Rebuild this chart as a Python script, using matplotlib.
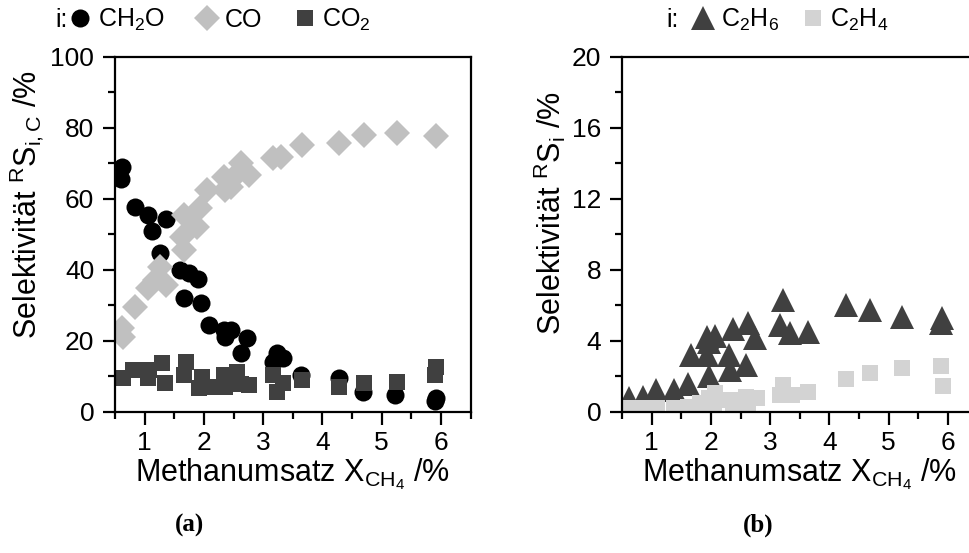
import numpy as np
import matplotlib
matplotlib.use("Agg")
import matplotlib.pyplot as plt
from matplotlib.ticker import MultipleLocator

plt.rcParams["font.family"] = ["Liberation Sans", "DejaVu Sans"]
plt.rcParams["mathtext.fontset"] = "custom"
plt.rcParams["mathtext.rm"] = "Liberation Sans"
plt.rcParams["mathtext.it"] = "Liberation Sans"
plt.rcParams["mathtext.default"] = "regular"

# --- (a) Kohlenstoffselektivitaeten ---
x_ch2o = [0.61, 0.60, 0.84, 1.06, 1.36, 1.12, 1.26, 1.60, 1.74, 1.90, 1.67, 1.95,
          2.08, 2.34, 2.45, 2.36, 2.73, 2.62, 3.16, 3.24, 3.33, 3.64, 4.28, 4.68,
          5.22, 5.92, 5.90]
s_ch2o = [69.1, 65.5, 57.8, 55.5, 54.3, 51.1, 44.7, 40.0, 39.1, 37.4, 32.0, 30.6,
          24.5, 23.1, 23.1, 21.2, 20.8, 16.5, 14.2, 16.5, 15.1, 10.4, 9.5, 5.7,
          4.8, 3.9, 3.1]

x_co = [0.61, 0.64, 0.84, 1.06, 1.26, 1.36, 1.18, 1.66, 1.63, 1.66, 1.88, 1.94,
        2.05, 2.34, 2.36, 2.45, 2.62, 2.76, 2.60, 3.16, 3.30, 3.66, 4.28, 4.70,
        5.25, 5.92]
s_co = [23.6, 21.2, 29.7, 34.8, 40.9, 35.8, 37.2, 45.6, 49.4, 55.5, 52.2, 57.4,
        62.5, 66.3, 62.5, 63.5, 70.1, 66.8, 67.5, 71.5, 71.9, 75.2, 75.7, 78.0,
        78.5, 77.7]

x_co2 = [0.63, 0.81, 1.06, 1.07, 1.29, 1.35, 1.69, 1.66, 1.91, 1.97, 2.11, 2.34,
         2.36, 2.56, 2.62, 2.76, 3.16, 3.24, 3.33, 3.66, 4.28, 4.70, 5.25, 5.90,
         5.92]
s_co2 = [9.5, 11.8, 9.5, 11.8, 13.7, 8.1, 14.2, 10.4, 6.7, 9.9, 7.1, 10.4,
         7.1, 11.4, 7.9, 7.6, 10.4, 5.7, 8.1, 9.0, 7.1, 8.1, 8.5, 10.4,
         12.8]

# --- (b) C2-Selektivitaeten ---
x_c2h6 = [0.62, 0.85, 1.07, 1.37, 1.62, 1.67, 1.93, 1.97, 1.93, 2.07, 1.96, 2.31,
          2.38, 2.32, 2.60, 2.63, 2.74, 3.16, 3.22, 3.33, 3.64, 4.28, 4.68, 5.22,
          5.90, 5.89]
s_c2h6 = [0.77, 0.86, 1.24, 1.24, 1.60, 3.20, 3.20, 2.00, 4.24, 4.30, 3.96, 3.20,
          4.70, 2.37, 2.65, 5.00, 4.15, 4.90, 6.30, 4.43, 4.52, 6.03, 5.75, 5.37,
          5.28, 5.00]

x_c2h4 = [0.63, 0.85, 1.09, 1.37, 1.62, 1.81, 1.96, 2.07, 2.05, 2.32, 2.38, 2.60,
          2.77, 2.63, 3.22, 3.16, 3.36, 3.64, 4.28, 4.68, 5.22, 5.88, 5.91]
s_c2h4 = [0.20, 0.20, 0.20, 0.20, 0.30, 0.48, 0.77, 1.05, 0.30, 0.68, 0.40, 0.86,
          0.77, 0.20, 1.52, 0.96, 0.96, 1.14, 1.84, 2.18, 2.46, 2.59, 1.46]

fs = 19      # Tickbeschriftung
fs_leg = 18  # Legende
fs_lab = 22  # Achsentitel

fig = plt.figure(figsize=(9.69, 5.53), dpi=100)
ax1 = fig.add_axes([0.1187, 0.255, 0.367, 0.642])
ax2 = fig.add_axes([0.6419, 0.255, 0.367, 0.642])

ax1.plot(x_ch2o, s_ch2o, "o", color="black", ms=13, mew=0, label="CH$_2$O")
ax1.plot(x_co, s_co, "D", color="#c0c0c0", ms=13.5, mew=0, label="CO")
ax1.plot(x_co2, s_co2, "s", color="#404040", ms=12, mew=0, label="CO$_2$")

ax2.plot(x_c2h6, s_c2h6, "^", color="#404040", ms=17, mew=0, label="C$_2$H$_6$")
ax2.plot(x_c2h4, s_c2h4, "s", color="#d3d3d3", ms=12, mew=0, label="C$_2$H$_4$")

for ax in (ax1, ax2):
    ax.set_xlim(0.5, 6.5)
    ax.xaxis.set_major_locator(MultipleLocator(1))
    ax.xaxis.set_minor_locator(MultipleLocator(0.5))
    for sp in ax.spines.values():
        sp.set_linewidth(1.6)
    ax.tick_params(which="major", direction="out", length=9, width=1.6,
                   labelsize=fs, top=False, right=False)
    ax.tick_params(which="minor", direction="out", length=5, width=1.6,
                   top=False, right=False)
    ax.tick_params(axis="x", pad=5)
    ax.tick_params(axis="y", pad=6)
    ax.set_xlabel("Methanumsatz X$_{CH_4}$ /%", fontsize=fs_lab, labelpad=1)

ax1.set_ylim(0, 100)
ax1.yaxis.set_major_locator(MultipleLocator(20))
ax1.yaxis.set_minor_locator(MultipleLocator(10))
ax1.set_ylabel("Selektivität $^R$S$_{i,C}$ /%", fontsize=fs_lab, labelpad=3)
ax1.yaxis.label.set_y(0.585)

ax2.set_ylim(0, 20)
ax2.yaxis.set_major_locator(MultipleLocator(4))
ax2.yaxis.set_minor_locator(MultipleLocator(2))
ax2.set_ylabel("Selektivität $^R$S$_i$ /%", fontsize=fs_lab, labelpad=3)
ax2.yaxis.label.set_y(0.56)

# Legenden oberhalb der Diagramme
leg_kw = dict(loc="center left", ncol=3, frameon=False, fontsize=fs_leg,
              handletextpad=0.2, borderaxespad=0, handlelength=1.0, borderpad=0)
ax1.legend(bbox_to_anchor=(-0.1335, 1.104), columnspacing=1.2, **leg_kw)
ax2.legend(bbox_to_anchor=(0.194, 1.104), columnspacing=0.85, **leg_kw)
fig.text(0.057, 0.964, "i:", fontsize=fs_leg, va="center")
fig.text(0.688, 0.964, "i:", fontsize=fs_leg, va="center")

fig.text(0.196, 0.05, "(a)", fontsize=18, fontweight="bold",
         family="Liberation Serif", ha="center", va="center")
fig.text(0.782, 0.05, "(b)", fontsize=18, fontweight="bold",
         family="Liberation Serif", ha="center", va="center")

fig.savefig("out.png", dpi=100)
